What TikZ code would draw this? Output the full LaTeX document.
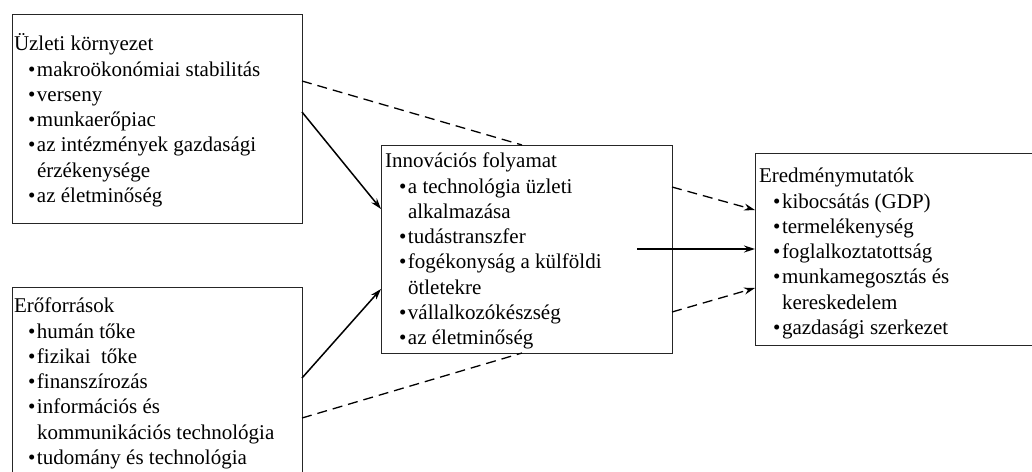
\documentclass[tikz,border=0pt]{standalone}
\usepackage{fontspec}
\setmainfont{Liberation Serif}
\usetikzlibrary{arrows.meta,calc}
\newcommand{\bl}{\makebox[9pt][l]{\textbullet}}
\newcommand{\ib}{\hspace*{14pt}\bl}
\newcommand{\ic}{\hspace*{23pt}}
\tikzset{
  box/.style={draw=black!85, line width=0.9pt, inner sep=0pt, outer sep=0pt, anchor=north west},
  txt/.style={anchor=north west, inner sep=0pt, outer sep=0pt, align=left, font=\fontsize{21}{25.3}\selectfont},
  solidarrow/.style={line width=1.5pt, -{Stealth[length=11pt,width=7pt]}},
  dashline/.style={line width=1.3pt, dash pattern=on 10pt off 6pt},
  dasharrow/.style={dashline, -{Stealth[length=11pt,width=7pt]}},
}
\begin{document}
\begin{tikzpicture}[x=1pt,y=-1pt]
\useasboundingbox (0,0) rectangle (1032,471);
% boxes
\node[box, minimum width=290pt, minimum height=209pt] (env) at (12,14) {};
\node[box, minimum width=290pt, minimum height=220pt] (res) at (12,287) {};
\node[box, minimum width=291pt, minimum height=208pt] (inno) at (381,145) {};
\node[box, minimum width=300pt, minimum height=192pt] (out) at (755,153) {};
% texts
\node[txt] (tenv) at ($(env.north west)+(2,19)$) {\strut Üzleti környezet\\
\ib makroökonómiai stabilitás\\
\ib verseny\\
\ib munkaerőpiac\\
\ib az intézmények gazdasági\\
\ic érzékenysége\\
\ib az életminőség};
\node[txt] (tres) at ($(res.north west)+(2,8)$) {\strut Erőforrások\\
\ib humán tőke\\
\ib fizikai\ \ tőke\\
\ib finanszírozás\\
\ib információs és\\
\ic kommunikációs technológia\\
\ib tudomány és technológia};
\node[txt] (tinno) at ($(inno.north west)+(4,5)$) {\strut Innovációs folyamat\\
\ib a technológia üzleti\\
\ic alkalmazása\\
\ib tudástranszfer\\
\ib fogékonyság a külföldi\\
\ic ötletekre\\
\ib vállalkozókészség\\
\ib az életminőség};
\node[txt] (tout) at ($(out.north west)+(4,12)$) {\strut Eredménymutatók\\
\ib kibocsátás (GDP)\\
\ib termelékenység\\
\ib foglalkoztatottság\\
\ib munkamegosztás és\\
\ic kereskedelem\\
\ib gazdasági szerkezet};
% connectors
\coordinate (mid) at ($(inno.north west)+(256,104)$);
\draw[dashline] ($(env.north east)+(0,67)$) -- ($(inno.north west)+(141,0)$);
\draw[solidarrow] ($(env.north east)+(0,98)$) -- ($(inno.north west)+(0,64)$);
\draw[solidarrow] ($(res.north east)+(0,91)$) -- ($(inno.north west)+(0,144)$);
\draw[dashline] ($(res.north east)+(0,131)$) -- ($(inno.south west)+(141,0)$);
\draw[dasharrow] ($(inno.north east)+(0,42)$) -- ($(out.north west)+(0,57)$);
\draw[solidarrow] (mid) -- ($(out.north west)+(0,96)$);
\draw[dasharrow] ($(inno.north east)+(0,167)$) -- ($(out.north west)+(0,135)$);
\end{tikzpicture}
\end{document}
